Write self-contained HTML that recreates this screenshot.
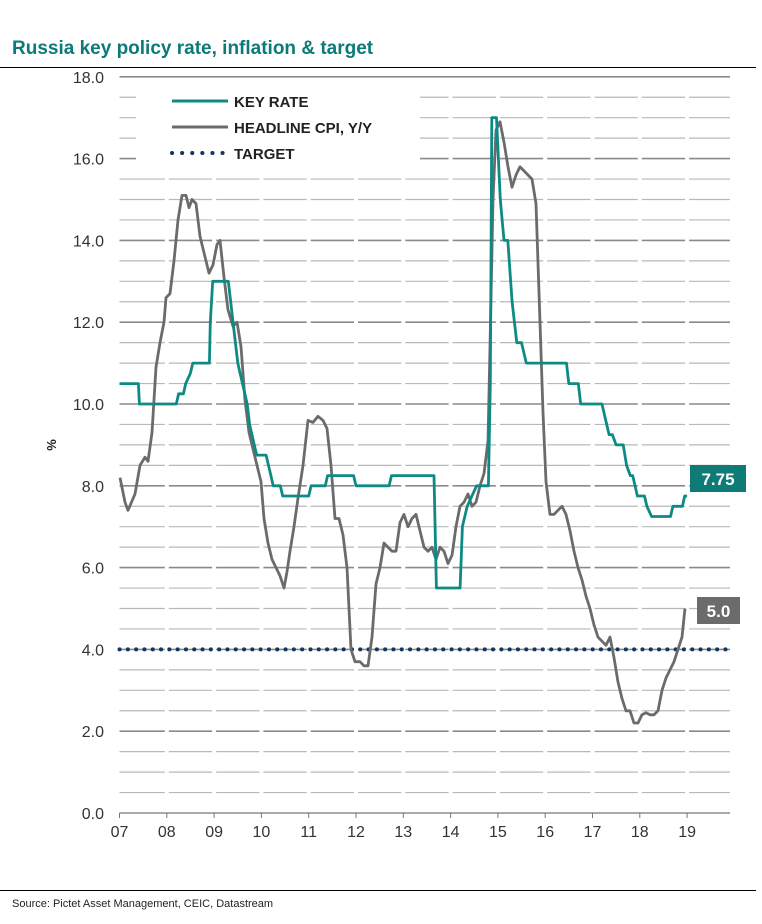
<!DOCTYPE html>
<html><head><meta charset="utf-8"><style>
body{margin:0;background:#fff;width:762px;height:919px;overflow:hidden;font-family:"Liberation Sans",sans-serif}
</style></head><body>
<svg width="762" height="919" viewBox="0 0 762 919">
<text x="12" y="54" fill="#0b7a78" font-size="19" font-weight="bold" font-family="Liberation Sans, sans-serif">Russia key policy rate, inflation &amp; target</text>
<line x1="0" y1="67.5" x2="756" y2="67.5" stroke="#000" stroke-width="1"/>
<g id="grid"></g>
<g id="yaxis"></g>
<g id="xaxis"></g>
<text x="0" y="0" transform="translate(56,445) rotate(-90)" text-anchor="middle" font-size="13" font-weight="bold" fill="#222">%</text>
<g id="series"></g>
<g>
<rect x="136" y="80" width="284" height="88" fill="#fff"/>
<line x1="172" y1="101" x2="228" y2="101" stroke="#0e8a85" stroke-width="3"/>
<text x="234" y="107" font-size="15" font-weight="bold" fill="#222">KEY RATE</text>
<line x1="172" y1="127" x2="228" y2="127" stroke="#6b6b6b" stroke-width="3"/>
<text x="234" y="133" font-size="15" font-weight="bold" fill="#222">HEADLINE CPI, Y/Y</text>
<line x1="172" y1="153" x2="226" y2="153" stroke="#14365e" stroke-width="4" stroke-dasharray="0.1 10" stroke-linecap="round"/>
<text x="234" y="159" font-size="15" font-weight="bold" fill="#222">TARGET</text>
</g>
<g><rect x="690" y="465" width="56" height="27" fill="#0e7b77"/><text x="718" y="485" text-anchor="middle" font-size="17" font-weight="bold" fill="#fff">7.75</text></g>
<g><rect x="697" y="597" width="43" height="27" fill="#6b6b6b"/><text x="718.5" y="617" text-anchor="middle" font-size="17" font-weight="bold" fill="#fff">5.0</text></g>
<line x1="0" y1="890.5" x2="756" y2="890.5" stroke="#000" stroke-width="1"/>
<text x="12" y="907" font-size="11" fill="#222">Source: Pictet Asset Management, CEIC, Datastream</text>
</svg>
<script>
const yTicks=[0,2,4,6,8,10,12,14,16,18];
const yearLabels=["07","08","09","10","11","12","13","14","15","16","17","18","19"];
const targetValue=4.0;
const keyRateYears=[2007.0,2007.4,2007.42,2008.2,2008.25,2008.35,2008.4,2008.5,2008.55,2008.9,2008.92,2008.97,2009.3,2009.35,2009.4,2009.45,2009.5,2009.55,2009.6,2009.7,2009.75,2009.85,2009.9,2010.1,2010.15,2010.2,2010.25,2010.4,2010.45,2011.0,2011.05,2011.35,2011.4,2011.95,2012.0,2012.7,2012.75,2013.65,2013.7,2014.2,2014.25,2014.35,2014.55,2014.8,2014.84,2014.87,2014.97,2015.05,2015.13,2015.21,2015.3,2015.4,2015.5,2015.6,2016.45,2016.5,2016.7,2016.75,2017.2,2017.25,2017.35,2017.42,2017.5,2017.65,2017.72,2017.8,2017.85,2017.95,2018.1,2018.15,2018.25,2018.65,2018.7,2018.9,2018.95,2019.0];
const keyRateValues=[10.5,10.5,10.0,10.0,10.25,10.25,10.5,10.75,11.0,11.0,12.0,13.0,13.0,12.5,12.0,11.5,11.0,10.75,10.5,10.0,9.5,9.0,8.75,8.75,8.5,8.25,8.0,8.0,7.75,7.75,8.0,8.0,8.25,8.25,8.0,8.0,8.25,8.25,5.5,5.5,7.0,7.5,8.0,8.0,10.5,17.0,17.0,15.0,14.0,14.0,12.5,11.5,11.5,11.0,11.0,10.5,10.5,10.0,10.0,9.75,9.25,9.25,9.0,9.0,8.5,8.25,8.25,7.75,7.75,7.5,7.25,7.25,7.5,7.5,7.75,7.75];
const cpiX=[120,125,128,135,140,145,148,152,156,160,164,166,170,174,178,182,186,189,192,196,200,205,209,213,217,220,224,228,233,237,241,245,249,253,257,261,264,268,272,276,280,284,287,290,294,298,303,308,313,318,323,327,331,335,339,343,347,351,355,360,364,368,372,376,380,384,388,392,396,400,404,408,412,416,420,424,428,432,436,440,444,448,452,456,460,464,468,472,476,480,484,488,490,493,496,500,504,508,512,516,520,524,528,532,536,540,543,546,550,554,558,562,566,570,574,578,582,586,590,594,598,602,606,610,614,618,622,626,630,634,638,642,646,650,654,658,662,666,670,674,678,682,685];
const cpiValues=[8.2,7.6,7.4,7.8,8.5,8.7,8.6,9.3,10.9,11.5,12.0,12.6,12.7,13.5,14.5,15.1,15.1,14.8,15.0,14.9,14.1,13.6,13.2,13.4,13.9,14.0,13.1,12.3,11.9,12.0,11.4,10.1,9.3,8.9,8.5,8.1,7.2,6.6,6.2,6.0,5.8,5.5,5.9,6.4,7.0,7.7,8.5,9.6,9.55,9.7,9.6,9.4,8.5,7.2,7.2,6.8,6.0,4.0,3.7,3.7,3.6,3.6,4.3,5.6,6.0,6.6,6.5,6.4,6.4,7.1,7.3,7.0,7.2,7.3,6.9,6.5,6.4,6.5,6.2,6.5,6.4,6.1,6.3,7.0,7.5,7.6,7.8,7.5,7.6,8.0,8.3,9.1,11.4,15.0,16.7,16.9,16.4,15.8,15.3,15.6,15.8,15.7,15.6,15.5,14.9,12.0,9.8,8.1,7.3,7.3,7.4,7.5,7.3,6.9,6.4,6.0,5.7,5.3,5.0,4.6,4.3,4.2,4.1,4.3,3.8,3.2,2.8,2.5,2.5,2.2,2.2,2.4,2.45,2.4,2.4,2.5,3.0,3.3,3.5,3.7,4.0,4.3,5.0];
(function(){
const NS="http://www.w3.org/2000/svg";
const X0=119.5,YW=47.3,Y0=813,YS=40.9,XR=730;
function xs(yr){return X0+(yr-2007)*YW;}
function ys(v){return Y0-v*YS;}
function mk(tag,attrs,parent){const e=document.createElementNS(NS,tag);for(const k in attrs)e.setAttribute(k,attrs[k]);parent.appendChild(e);return e;}
const grid=document.getElementById('grid');
for(let v=0.5;v<=17.5;v+=0.5){
  const major=(v%2===0);
  for(let i=0;i<13;i++){
    const a=xs(2007+i)+(i===0?0:2),b=Math.min(xs(2008+i)-2,XR);
    const l=mk('line',{x1:a,x2:b,y1:ys(v),y2:ys(v),stroke:major?'#8a8a8a':'#b8b8b8','stroke-width':major?1.6:1.2},grid);
    
    
  }
}
const topLine=mk('line',{x1:X0,x2:XR,y1:ys(18),y2:ys(18),stroke:'#8a8a8a','stroke-width':1.6},grid);


const ya=document.getElementById('yaxis');
yTicks.forEach(v=>{
  const t=mk('text',{x:104,y:ys(v)+6,'text-anchor':'end','font-size':16,fill:'#333'},ya);
  t.textContent=v.toFixed(1);
  
  
});
const xa=document.getElementById('xaxis');
mk('line',{x1:X0,x2:XR,y1:Y0,y2:Y0,stroke:'#777','stroke-width':1.2},xa);
yearLabels.forEach((lab,i)=>{
  const x=xs(2007+i);
  mk('line',{x1:x,x2:x,y1:Y0,y2:Y0+5,stroke:'#777','stroke-width':1},xa);
  const t=mk('text',{x:x,y:Y0+24,'text-anchor':'middle','font-size':16,fill:'#333'},xa);
  t.textContent=lab;
  
  
});
const s=document.getElementById('series');
const tgt=mk('line',{x1:X0,x2:XR,y1:ys(targetValue),y2:ys(targetValue),stroke:'#14365e','stroke-width':4,'stroke-dasharray':'0.1 8.2','stroke-linecap':'round'},s);


const cp=mk('polyline',{points:cpiX.map((x,i)=>x+','+ys(cpiValues[i]).toFixed(1)).join(' '),fill:'none',stroke:'#6b6b6b','stroke-width':2.8,'stroke-linejoin':'round'},s);


const kr=mk('polyline',{points:keyRateYears.map((y,i)=>xs(y).toFixed(1)+','+ys(keyRateValues[i]).toFixed(1)).join(' '),fill:'none',stroke:'#0e8a85','stroke-width':2.8,'stroke-linejoin':'round'},s);


})();
</script>
</body></html>
